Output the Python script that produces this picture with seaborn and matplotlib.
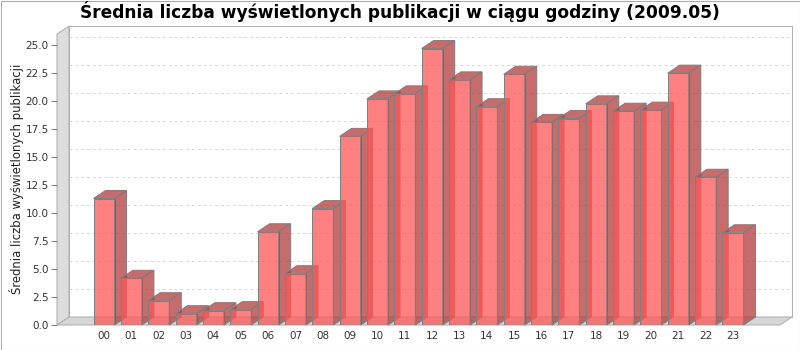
import numpy as np
import pandas as pd
import matplotlib
matplotlib.use("Agg")
import matplotlib.pyplot as plt
import seaborn as sns
from matplotlib.patches import Polygon, Rectangle

# ---- data ----
hours = ["00", "01", "02", "03", "04", "05", "06", "07", "08", "09", "10", "11",
         "12", "13", "14", "15", "16", "17", "18", "19", "20", "21", "22", "23"]
values = [11.3, 4.17, 2.17, 1.01, 1.28, 1.37, 8.33, 4.58, 10.4, 16.85, 20.2, 20.65,
          24.7, 21.9, 19.5, 22.4, 18.1, 18.45, 19.76, 19.1, 19.2, 22.5, 13.2, 8.24]
yticks = [0.0, 2.5, 5.0, 7.5, 10.0, 12.5, 15.0, 17.5, 20.0, 22.5, 25.0]
title = "Średnia liczba wyświetlonych publikacji w ciągu godziny (2009.05)"
ylabel = "Średnia liczba wyświetlonych publikacji"

sns.set_theme(style="white")
plt.rcParams["font.family"] = ["DejaVu Sans"]

W, H = 800, 350
fig = plt.figure(figsize=(W / 100, H / 100), dpi=100)
fig.patch.set_facecolor("white")
L, R, B, T = 57, 780, 325, 34
ax = fig.add_axes([L / W, 1 - B / H, (R - L) / W, (B - T) / H])

df = pd.DataFrame({"hour": hours, "value": values})
sns.barplot(data=df, x="hour", y="value", color="#FF5555", width=0.77,
            saturation=1, edgecolor="#808080", linewidth=0.75, ax=ax)

ax.set_xlim(-1.72, 24.72)
ax.set_ylim(0, 26)
ax.patch.set_visible(False)
for s in ax.spines.values():
    s.set_visible(False)
ax.set_xlabel("")
ax.set_ylabel("")

fig.canvas.draw()
o = ax.transData.transform((0, 0))
ddx, ddy = ax.transData.inverted().transform(o + np.array([12.0, 8.0]))
x0, x1 = ax.get_xlim()
y1 = ax.get_ylim()[1]

wall_ec = "#B0B0B0"
LW = 0.75
# back wall
ax.add_patch(Rectangle((x0 + ddx, ddy), x1 - x0, y1, fc="white", ec=wall_ec,
                       lw=LW, zorder=0.2, clip_on=False))
# left wall
ax.add_patch(Polygon([(x0, 0), (x0, y1), (x0 + ddx, y1 + ddy), (x0 + ddx, ddy)],
                     closed=True, fc="#DDDDDD", ec=wall_ec, lw=LW, zorder=0.3, clip_on=False))
# floor
ax.add_patch(Polygon([(x0, 0), (x1, 0), (x1 + ddx, ddy), (x0 + ddx, ddy)],
                     closed=True, fc="#D6D6D6", ec=wall_ec, lw=LW, zorder=0.3, clip_on=False))
# gridlines on back wall
for v in yticks[1:]:
    ax.plot([x0 + ddx, x1 + ddx], [v + ddy, v + ddy], ls=(0, (3, 3)), color="#D8D8D8",
            lw=0.7, zorder=0.5, clip_on=False)

front_c = (1.0, 85 / 255, 85 / 255, 0.75)
dark_c = (178 / 255, 59 / 255, 59 / 255, 0.75)
for i, p in enumerate(ax.patches[:len(values)]):
    p.set_alpha(None)
    p.set_facecolor(front_c)
    p.set_edgecolor("#808080")
    p.set_linewidth(LW)
    p.set_zorder(2 + 2 * i)
    bx, bw, bh = p.get_x(), p.get_width(), p.get_height()
    bx1 = bx + bw
    side = Polygon([(bx1, 0), (bx1, bh), (bx1 + ddx, bh + ddy), (bx1 + ddx, ddy)],
                   closed=True, fc=dark_c, ec="#808080", lw=LW, zorder=3 + 2 * i, clip_on=False)
    top = Polygon([(bx, bh), (bx1, bh), (bx1 + ddx, bh + ddy), (bx + ddx, bh + ddy)],
                  closed=True, fc=dark_c, ec="#808080", lw=LW, zorder=3 + 2 * i, clip_on=False)
    ax.add_patch(side)
    ax.add_patch(top)

ax.set_yticks(yticks)
ax.set_yticklabels([f"{v:.1f}" for v in yticks])
ax.tick_params(axis="y", left=True, length=4, width=0.75, color="#808080", pad=2,
               labelsize=7.5, labelcolor="#333333")
ax.tick_params(axis="x", bottom=False, length=0, pad=4, labelsize=7.5, labelcolor="#333333")

t = fig.text(0.5, 1 - 12 / H, title, ha="center", va="center", fontweight="bold",
             fontsize=13, color="black")
yl = fig.text(17 / W, 1 - 179 / H, ylabel, rotation=90, ha="center", va="center",
              fontsize=8, color="#222222")

renderer = fig.canvas.get_renderer()
w = t.get_window_extent(renderer).width
t.set_fontsize(13 * 636 / w)
h = yl.get_window_extent(renderer).height
yl.set_fontsize(8 * 230 / h)

fig.patches.append(Rectangle((0.5 / W, 0.5 / H), 1 - 1 / W, 1 - 1 / H, transform=fig.transFigure,
                             fill=False, ec="#AAAAAA", lw=0.75))

fig.savefig("out.png", dpi=100)
